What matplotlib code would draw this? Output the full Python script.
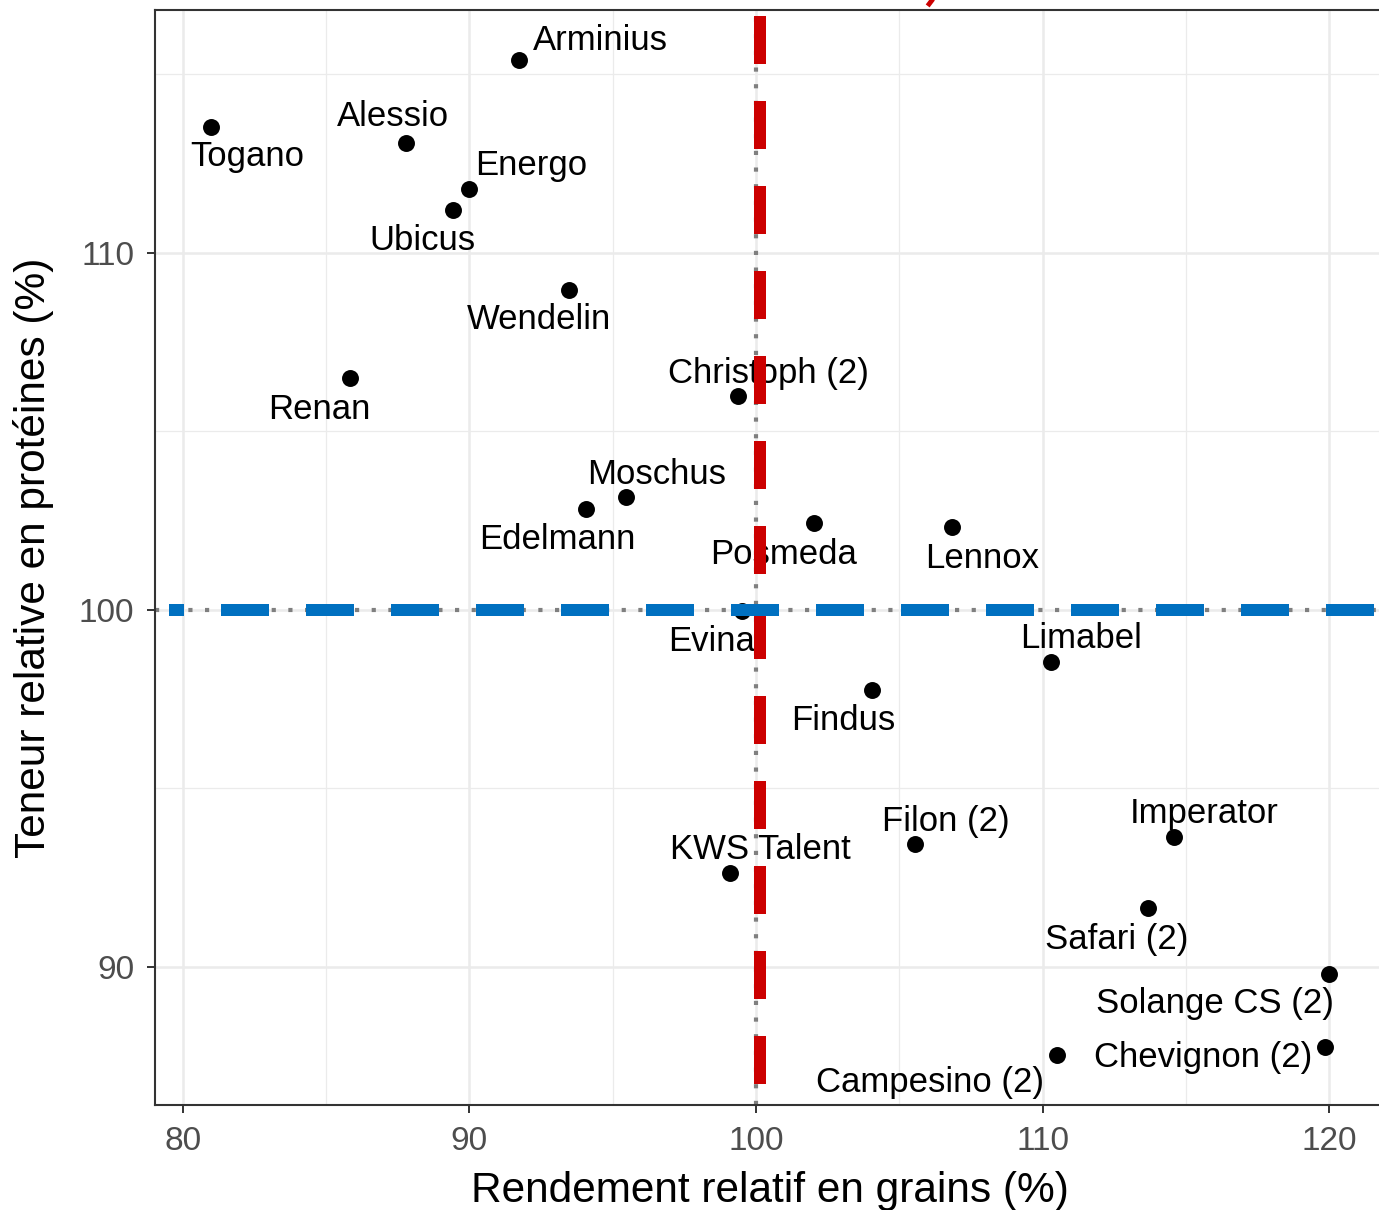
import numpy as np
import matplotlib
matplotlib.use('Agg')
import matplotlib.pyplot as plt

plt.rcParams['font.family'] = ['Liberation Sans', 'DejaVu Sans']
plt.rcParams['lines.scale_dashes'] = False

# data
names = ['Arminius', 'Togano', 'Alessio', 'Energo', 'Ubicus', 'Wendelin', 'Renan',
         'Christoph (2)', 'Moschus', 'Edelmann', 'Posmeda', 'Lennox', 'Evina',
         'Limabel', 'Findus', 'Filon (2)', 'KWS Talent', 'Imperator', 'Safari (2)',
         'Solange CS (2)', 'Chevignon (2)', 'Campesino (2)']
rendement = [91.74, 80.98, 87.77, 90.0, 89.44, 93.48, 85.85,
             99.37, 95.47, 94.08, 102.02, 106.83, 99.51,
             110.28, 104.04, 105.54, 99.09, 114.6, 113.69,
             120.0, 119.86, 110.49]
proteines = [115.41, 113.54, 113.09, 111.78, 111.19, 108.95, 106.49,
             105.99, 103.16, 102.83, 102.43, 102.32, 99.97,
             98.55, 97.76, 93.43, 92.62, 93.62, 91.64,
             89.79, 87.75, 87.52]

# label offsets in pixels (dx, dy up)
offsets = [(81, 22), (36, -27), (-13, 29), (62, 26), (-31, -28), (-30, -27), (-31, -29),
           (31, 25), (30, 25), (-29, -28), (-30, -29), (30, -29), (-30, -28),
           (30, 26), (-29, -28), (31, 25), (30, 26), (30, 26), (-32, -29),
           (-114, -27), (-122, -8), (-127, -25)]

x = np.array(rendement)
y = np.array(proteines)
xr = x.max() - x.min()
yr = y.max() - y.min()
xlim = (x.min() - 0.05 * xr, x.max() + 0.05 * xr)
ylim = (y.min() - 0.05 * yr, y.max() + 0.05 * yr)

fig = plt.figure(figsize=(13.79, 12.10), dpi=100)
ax = fig.add_axes([0.1124, 0.0868, 1.0044 - 0.1124, 0.9917 - 0.0868])

ax.set_xlim(xlim)
ax.set_ylim(ylim)
ax.set_xticks([80, 90, 100, 110, 120])
ax.set_yticks([90, 100, 110])
ax.set_xticks([85, 95, 105, 115], minor=True)
ax.set_yticks([95, 105, 115], minor=True)
ax.grid(which='major', color='#EBEBEB', lw=1.8, zorder=0)
ax.grid(which='minor', color='#EBEBEB', lw=0.9, zorder=0)
ax.set_axisbelow(True)
ax.tick_params(which='minor', length=0)
ax.tick_params(which='major', length=6, width=1.4, color='#333333',
               labelsize=24, labelcolor='#4D4D4D', pad=9)
for s in ax.spines.values():
    s.set_color('#333333')
    s.set_linewidth(1.5)

# reference lines
ax.plot([100, 100], [ylim[0], ylim[1]], color='#7F7F7F', lw=3.0,
        linestyle=(0, (3.0, 9.0)), zorder=2)
ax.plot([xlim[0], xlim[1]], [100, 100], color='#7F7F7F', lw=3.0,
        linestyle=(0, (3.0, 9.0)), zorder=2)

ax.scatter(x, y, s=12.2 ** 2, color='black', zorder=3, linewidths=0)

for n, xi, yi, (dx, dy) in zip(names, rendement, proteines, offsets):
    ax.annotate(n, (xi, yi), xytext=(dx, dy - 12), textcoords='offset pixels',
                ha='center', va='baseline', fontsize=25, color='black', zorder=4)

ax.plot([100.14, 100.14], [116.64, ylim[0]], color='#CC0000', lw=8.64,
        linestyle=(0, (34.56, 26.64)), solid_capstyle='butt', dash_capstyle='butt', zorder=5)
ax.plot([79.51, xlim[1] + 1], [100, 100], color='#0070C0', lw=8.64,
        linestyle=(23.76, (34.56, 26.64)), solid_capstyle='butt', dash_capstyle='butt', zorder=6)

# tip of a red line above the panel
ax.plot([105.99, 106.35], [116.92, 117.3], color='#CC0000', lw=3.5, clip_on=False,
        solid_capstyle='butt', zorder=6)

ax.set_xlabel('Rendement relatif en grains (%)', fontsize=30.5, labelpad=10)
ax.set_ylabel('Teneur relative en protéines (%)', fontsize=30.5, labelpad=18)

fig.savefig('out.png', dpi=100)
